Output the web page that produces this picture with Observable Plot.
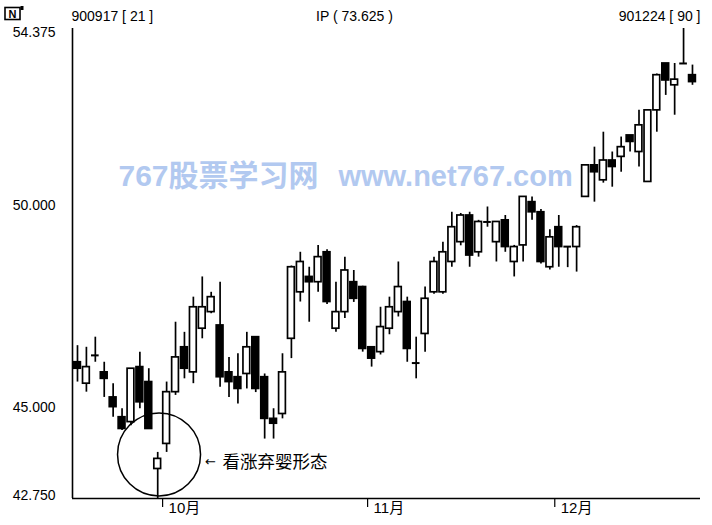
<!DOCTYPE html>
<html><head><meta charset="utf-8">
<script src="https://cdn.jsdelivr.net/npm/d3@7"></script>
<script src="https://cdn.jsdelivr.net/npm/@observablehq/plot@0.6"></script>
<style>
html,body{margin:0;padding:0;background:#fff;}
#chart{width:712px;height:525px;}
</style></head><body><div id="chart"></div>
<script>
// ---- data (bar index 21 = 1990-09-17 ... index 90 = 1990-12-24) ----
const firstIndex = 21;
const opens  = [46.12,45.59,46.29,45.87,45.25,44.76,44.64,46.00,45.63,43.48,
                44.10,45.38,46.49,45.87,46.95,47.36,47.03,45.87,45.75,45.83,
                46.74,45.75,44.72,44.84,46.70,47.85,48.23,48.10,48.84,46.95,
                47.36,48.10,47.98,46.49,46.37,46.95,47.36,47.61,46.10,46.82,
                47.85,47.85,48.60,49.09,49.75,48.84,49.59,49.09,49.63,48.60,
                49.01,50.08,49.83,48.47,49.46,48.98,48.97,50.21,50.99,50.62,
                51.11,51.20,51.73,51.32,50.58,52.35,53.51,52.97,53.51,53.22];
const highs  = [46.53,46.49,46.74,46.12,45.59,44.97,45.96,46.37,45.96,43.89,
                45.63,47.11,46.86,47.73,48.23,47.85,48.10,46.24,46.33,46.86,
                46.74,45.83,44.97,46.33,48.50,48.84,48.47,49.01,48.90,48.10,
                48.72,48.39,48.00,46.49,47.48,47.73,48.60,47.73,46.74,47.98,
                48.72,49.09,49.83,49.80,49.83,49.63,49.96,49.60,49.75,49.01,
                50.21,50.21,49.90,49.40,49.75,48.98,49.50,51.00,51.44,51.81,
                51.32,51.69,51.73,52.35,52.35,53.25,53.51,53.51,54.375,53.47];
const lows   = [45.63,45.38,46.12,45.25,44.76,44.43,44.55,44.97,44.47,42.75,
                43.89,45.30,45.71,45.59,46.70,47.32,45.50,45.25,45.09,45.46,
                45.37,44.22,44.22,44.72,46.21,47.61,47.11,47.85,47.55,46.86,
                47.20,47.60,46.37,46.00,46.30,46.80,47.24,46.12,45.71,46.37,
                47.80,47.80,48.47,49.00,48.47,48.72,49.46,48.60,48.84,48.23,
                48.60,49.63,48.55,48.40,48.47,48.46,48.35,50.20,50.08,50.55,
                50.45,50.82,51.32,50.95,50.58,51.81,52.72,52.23,53.51,52.97];
const closes = [45.96,46.00,46.29,45.71,45.01,44.47,45.96,45.13,44.47,43.73,
                45.38,46.24,45.96,47.48,47.48,47.73,45.75,45.63,45.46,46.49,
                45.46,44.72,44.60,45.87,48.47,48.60,48.10,48.72,47.61,47.36,
                48.39,47.69,46.45,46.21,46.99,47.48,47.98,46.45,46.10,47.69,
                48.60,48.84,49.46,49.75,48.76,49.59,49.59,49.59,48.97,48.97,
                50.21,49.83,48.60,49.21,48.97,48.98,49.46,50.99,50.82,51.11,
                50.95,51.44,51.57,51.98,52.35,53.22,53.09,53.11,53.51,53.05];

const yTicks = [54.375, 50, 45, 42.75];
const yTickLabels = ["54.375", "50.000", "45.000", "42.750"];
const monthStarts = [31, 54, 75];
const monthLabels = ["10月", "11月", "12月"];
const headerLeft = "900917 [ 21 ]";
const headerCenter = "IP ( 73.625 )";
const headerRight = "901224 [ 90 ]";
const watermarkA = "767股票学习网";
const watermarkB = "www.net767.com";
const annotationText = "看涨弃婴形态";

// ---- build table ----
const data = opens.map((o, k) => ({i: firstIndex + k, open: o, high: highs[k], low: lows[k], close: closes[k]}));
const doji = data.filter(d => Math.abs(d.open - d.close) < 0.02);
const ups = data.filter(d => d.close - d.open >= 0.02);
const downs = data.filter(d => d.open - d.close >= 0.02);

const HW = 0.38;
const sansFont = "'Liberation Sans', Arial, 'Noto Sans CJK SC', sans-serif";
const cjkFont = "'Noto Sans CJK SC', sans-serif";

const plot = Plot.plot({
  width: 712, height: 525,
  marginLeft: 72, marginRight: 12, marginTop: 28, marginBottom: 27,
  x: {domain: [20.44, 90.9]},
  y: {domain: [42.75, 54.375], axis: null},
  style: {fontFamily: sansFont, background: "#fff", color: "#000", overflow: "visible"},
  marks: [
    // watermark
    Plot.text([watermarkA], {frameAnchor: "top-left", text: d => d, dx: 46, dy: 148, textAnchor: "start", lineAnchor: "middle",
      fontSize: 30, fontWeight: "bold", fill: "#b2c9f0", fontFamily: "'Liberation Sans', 'Noto Sans CJK SC', sans-serif"}),
    Plot.text([watermarkB], {frameAnchor: "top-left", text: d => d, dx: 266, dy: 148, textAnchor: "start", lineAnchor: "middle",
      fontSize: 29, fontWeight: "bold", fill: "#b2c9f0", fontFamily: "'Liberation Sans', sans-serif"}),
    // axes lines
    Plot.ruleX([20.44], {stroke: "#000", strokeWidth: 1.6}),
    Plot.ruleY([42.75], {stroke: "#000", strokeWidth: 1.6}),
    Plot.axisX(monthStarts.map(d => d - 0.45), {tickSize: 9, tickFormat: () => "", label: null, strokeWidth: 1.2}),
    Plot.text(monthStarts, {x: d => d - 0.45, frameAnchor: "bottom", text: (d, k) => monthLabels[k], textAnchor: "start",
      lineAnchor: "middle", dx: 6, dy: 10, fontSize: 15, fill: "#000"}),
    // y labels
    Plot.text(yTicks.slice(0, 1), {y: d => d, frameAnchor: "left", text: (d, k) => yTickLabels[0], textAnchor: "end", dx: -17, dy: 4, fontSize: 14}),
    Plot.text(yTicks.slice(1, 3), {y: d => d, frameAnchor: "left", text: (d, k) => yTickLabels[k + 1], textAnchor: "end", dx: -17, dy: 0, fontSize: 14}),
    Plot.text(yTicks.slice(3), {y: d => d, frameAnchor: "left", text: (d, k) => yTickLabels[3], textAnchor: "end", dx: -17, dy: -3, fontSize: 14}),
    // header
    Plot.text([headerLeft], {frameAnchor: "top-left", text: d => d, dx: -1, dy: -11.5, textAnchor: "start", lineAnchor: "middle", fontSize: 14}),
    Plot.text([headerCenter], {frameAnchor: "top", text: d => d, dx: -32, dy: -11.5, textAnchor: "middle", lineAnchor: "middle", fontSize: 14}),
    Plot.text([headerRight], {frameAnchor: "top-right", text: d => d, dx: 0, dy: -11.5, textAnchor: "end", lineAnchor: "middle", fontSize: 14}),
    // candles
    Plot.ruleX(data, {x: "i", y1: "low", y2: "high", stroke: "#000", strokeWidth: 1.7}),
    Plot.rect(ups, {x1: d => d.i - HW, x2: d => d.i + HW, y1: "open", y2: "close", fill: "#fff", stroke: "#000", strokeWidth: 1.7}),
    Plot.rect(downs, {x1: d => d.i - HW, x2: d => d.i + HW, y1: "open", y2: "close", fill: "#000", stroke: "#000", strokeWidth: 1.7}),
    Plot.ruleY(doji, {y: "close", x1: d => d.i - HW - 0.05, x2: d => d.i + HW + 0.05, stroke: "#000", strokeWidth: 2}),
    // annotation
    Plot.dot([{i: 30.15, p: 43.84}], {x: "i", y: "p", r: 41.5, fill: "none", stroke: "#000", strokeWidth: 1.5}),
    Plot.text(["←"], {x: 35.92, y: 43.65, text: d => d, fontSize: 13, textAnchor: "middle", lineAnchor: "middle", fontFamily: "'DejaVu Sans', sans-serif"}),
    Plot.text([annotationText], {x: 37.27, y: 43.65, text: d => d, fontSize: 17.5, textAnchor: "start", lineAnchor: "middle", fontFamily: cjkFont})
  ]
});

// small "N" logo in the top-left corner
const svg = d3.select(plot);
const g = svg.append("g");
g.append("rect").attr("x", 5).attr("y", 7.5).attr("width", 15).attr("height", 12).attr("fill", "none").attr("stroke", "#000").attr("stroke-width", 1.6);
g.append("text").attr("x", 12.5).attr("y", 17.8).attr("text-anchor", "middle").attr("font-size", 11).attr("font-weight", "bold")
  .attr("font-family", "'Liberation Sans', Arial, sans-serif").text("N");
g.append("rect").attr("x", 20.5).attr("y", 6).attr("width", 3).attr("height", 4).attr("fill", "#000");

document.getElementById("chart").appendChild(plot);
</script></body></html>
